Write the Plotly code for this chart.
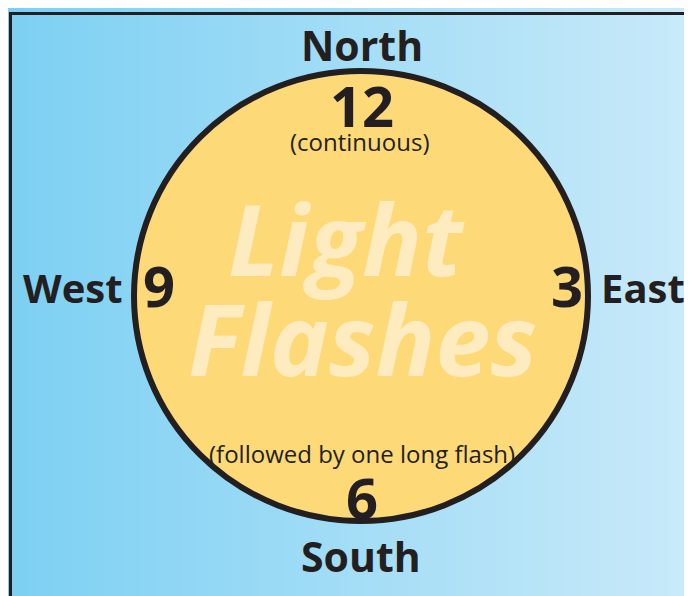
import numpy as np
import plotly.graph_objects as go

# ---- data ----
directions = ["North", "East", "South", "West"]
hours = ["12", "3", "6", "9"]
notes = ["(continuous)", "(followed by one long flash)"]
title_lines = ["Light", "Flashes"]
gradient_stops = ["#7dd0f3", "#c9eaf9"]

W, H = 692, 596
OFF = 8  # browser default body margin
INK = "#231f20"
FONT = "Open Sans"

fig = go.Figure()

# background gradient (left -> right)
gx = np.linspace(12, W, 60)
fig.add_trace(go.Heatmap(
    x=gx, y=[15, H], z=[gx, gx],
    colorscale=[[0, gradient_stops[0]], [1, gradient_stops[1]]],
    showscale=False, zsmooth="best", hoverinfo="skip"))

# frame lines (left & top)
fig.add_shape(type="line", x0=10.5, x1=10.5, y0=12, y1=H, line=dict(color=INK, width=3), layer="above")
fig.add_shape(type="line", x0=9, x1=W, y0=13.5, y1=13.5, line=dict(color=INK, width=3), layer="above")

# circle
cx, cy, r = 361, 296, 226
fig.add_shape(type="circle", x0=cx - r - 1, x1=cx + r + 1, y0=cy - r + 1, y1=cy + r - 1,
              line=dict(color=INK, width=6), fillcolor="#fdd978", layer="above")

def ann(text, x, y, size, bold=True, color=INK, italic=False, xanchor="center"):
    fig.add_annotation(x=x, y=y, text=text, showarrow=False, xanchor=xanchor, yanchor="middle",
                       font=dict(family=FONT, size=size, color=color,
                                 weight="bold" if bold else "normal",
                                 style="italic" if italic else "normal"))

# big watermark text
ann(title_lines[0], 346, 237, 99, color="#feecc0", italic=True)
ann(title_lines[1], 362, 337, 99, color="#feecc0", italic=True)

# directions
ann(directions[0], 362, 45, 41)
ann(directions[1], 643, 287, 40)
ann(directions[2], 361, 556, 41)
ann(directions[3], 73, 287, 40)

# hour numbers
ann(hours[0], 362, 105, 56)
ann(hours[1], 567, 285, 56)
ann(hours[2], 362, 497, 56)
ann(hours[3], 159, 285, 56)

# notes
ann(notes[0], 359, 141, 24, bold=False)
ann(notes[1], 362, 453, 24, bold=False)

fig.update_layout(
    width=W - OFF, height=H - OFF, margin=dict(l=0, r=0, t=0, b=0),
    paper_bgcolor="white", plot_bgcolor="white",
    xaxis=dict(range=[OFF, W], visible=False, fixedrange=True),
    yaxis=dict(range=[H, OFF], visible=False, fixedrange=True),
    showlegend=False,
)
fig.write_html("out.html")
